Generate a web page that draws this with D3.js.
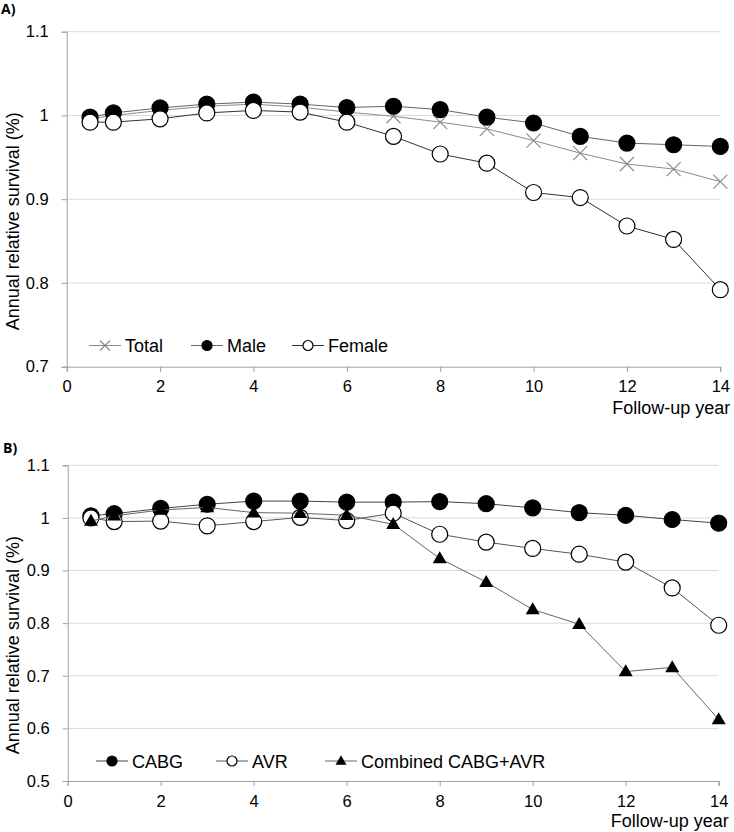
<!DOCTYPE html>
<html>
<head>
<meta charset="utf-8">
<script src="https://cdn.jsdelivr.net/npm/d3@7"></script>
<style>
  body { margin: 0; background: #fff; }
  svg { display: block; font-family: "Liberation Sans", Arial, sans-serif; }
  .tick text { font-size: 16.5px; fill: #000; }
</style>
</head>
<body>
<svg id="chart" width="734" height="832"></svg>
<script>
// follow-up years
var yearsA = [0.5, 1, 2, 3, 4, 5, 6, 7, 8, 9, 10, 11, 12, 13, 14];
var yearsB = [0.5, 1, 2, 3, 4, 5, 6, 7, 8, 9, 10, 11, 12, 13, 14];

// panel A: by sex
var totalVals  = [0.996, 1.000, 1.006, 1.011, 1.0135, 1.010, 1.004, 0.999, 0.992, 0.984, 0.970, 0.955, 0.942, 0.936, 0.921];
var maleVals   = [0.998, 1.003, 1.009, 1.0135, 1.016, 1.0135, 1.0095, 1.011, 1.007, 0.998, 0.991, 0.975, 0.967, 0.965, 0.963];
var femaleVals = [0.992, 0.992, 0.996, 1.003, 1.006, 1.004, 0.992, 0.975, 0.954, 0.943, 0.908, 0.902, 0.868, 0.852, 0.792];

// panel B: by procedure
var cabgVals     = [1.004, 1.008, 1.018, 1.026, 1.032, 1.032, 1.030, 1.030, 1.031, 1.027, 1.019, 1.010, 1.005, 0.997, 0.990];
var avrVals      = [1.000, 0.993, 0.994, 0.985, 0.993, 1.001, 0.995, 1.009, 0.969, 0.954, 0.942, 0.931, 0.916, 0.867, 0.796];
var combinedVals = [0.994, 1.004, 1.015, 1.020, 1.010, 1.009, 1.005, 0.988, 0.923, 0.878, 0.826, 0.798, 0.708, 0.716, 0.617];

var xTicks = [0, 2, 4, 6, 8, 10, 12, 14];
var yTicksA = [0.7, 0.8, 0.9, 1.0, 1.1];
var yTicksB = [0.5, 0.6, 0.7, 0.8, 0.9, 1.0, 1.1];

var svg = d3.select("#chart");

function drawMarker(g, type, x, y, big) {
    var r = big ? 8 : 5;
    if (type === "cross") {
        var s = big ? 7 : 5;
        g.append("path")
            .attr("d", "M" + (x - s) + "," + (y - s) + "L" + (x + s) + "," + (y + s) +
                       "M" + (x - s) + "," + (y + s) + "L" + (x + s) + "," + (y - s))
            .attr("stroke", "#8c8c8c").attr("stroke-width", 1.2).attr("fill", "none");
    } else if (type === "triangle") {
        var w = big ? 7 : 5.5, h = big ? 12 : 9.5;
        g.append("path")
            .attr("d", "M" + x + "," + (y - h * 0.6) + "L" + (x + w) + "," + (y + h * 0.4) +
                       "L" + (x - w) + "," + (y + h * 0.4) + "Z")
            .attr("fill", "#000");
    } else {
        g.append("circle").attr("cx", x).attr("cy", y).attr("r", r)
            .attr("fill", type === "filled" ? "#000" : "#fff")
            .attr("stroke", "#000").attr("stroke-width", 1.2);
    }
}

function drawPanel(opt) {
    var x = d3.scaleLinear().domain([0, 14]).range([opt.left, opt.right]);
    var y = d3.scaleLinear().domain(opt.yDomain).range([opt.bottom, opt.top]);
    var g = svg.append("g");

    // gridlines
    g.selectAll(".grid").data(opt.yTicks.slice(1)).enter().append("line")
        .attr("x1", opt.left).attr("x2", opt.right)
        .attr("y1", function(d) { return y(d); }).attr("y2", function(d) { return y(d); })
        .attr("stroke", "#d9d9d9").attr("stroke-width", 1);

    // axes
    var xAxis = g.append("g").attr("transform", "translate(0," + opt.bottom + ")")
        .call(d3.axisBottom(x).tickValues(xTicks).tickSize(5).tickPadding(9).tickFormat(d3.format("d")));
    var yAxis = g.append("g").attr("transform", "translate(" + opt.left + ",0)")
        .call(d3.axisLeft(y).tickValues(opt.yTicks).tickSize(5).tickPadding(13)
            .tickFormat(function(d) { return d === 1 ? "1" : d3.format(".1f")(d); }));
    [xAxis, yAxis].forEach(function(a) {
        a.select(".domain").attr("stroke", "#a0a0a0");
        a.selectAll(".tick line").attr("stroke", "#a0a0a0");
    });

    // series
    opt.series.forEach(function(s) {
        var line = d3.line().x(function(d, i) { return x(opt.years[i]); }).y(function(d) { return y(d); });
        g.append("path").datum(s.values).attr("d", line)
            .attr("fill", "none").attr("stroke", s.stroke).attr("stroke-width", 1);
        s.values.forEach(function(v, i) {
            drawMarker(g, s.marker, x(opt.years[i]), y(v), true);
        });
    });

    // legend
    opt.series.forEach(function(s, i) {
        var lx = opt.legendX[i], ly = opt.legendY;
        g.append("line").attr("x1", lx).attr("x2", lx + 32).attr("y1", ly).attr("y2", ly)
            .attr("stroke", s.stroke).attr("stroke-width", 1);
        drawMarker(g, s.marker, lx + 16, ly, false);
        g.append("text").attr("x", lx + 36).attr("y", ly + 6.5)
            .attr("font-size", 18).text(s.name);
    });

    // titles
    g.append("text")
        .attr("transform", "translate(" + 19 + "," + ((opt.top + opt.bottom) / 2 + 22) + ") rotate(-90)")
        .attr("text-anchor", "middle").attr("font-size", 18)
        .text("Annual relative survival (%)");
    g.append("text").attr("x", opt.right + 10).attr("y", opt.xTitleY)
        .attr("text-anchor", "end").attr("font-size", 18).text("Follow-up year");
    g.append("text").attr("x", opt.labelX).attr("y", opt.labelY)
        .attr("font-family", "'Open Sans', sans-serif").attr("font-weight", "bold")
        .attr("font-size", 14).text(opt.label);
}

drawPanel({
    label: "A)", labelX: 1, labelY: 14,
    left: 66.7, right: 720.3, top: 31.7, bottom: 366.7,
    yDomain: [0.7, 1.1], yTicks: yTicksA, years: yearsA,
    xTitleY: 414,
    legendX: [89, 191, 292], legendY: 345.5,
    series: [
        { name: "Total", values: totalVals, marker: "cross", stroke: "#8c8c8c" },
        { name: "Male", values: maleVals, marker: "filled", stroke: "#666" },
        { name: "Female", values: femaleVals, marker: "open", stroke: "#333" }
    ]
});

drawPanel({
    label: "B)", labelX: 3, labelY: 453,
    left: 67.7, right: 718.7, top: 465.3, bottom: 781,
    yDomain: [0.5, 1.1], yTicks: yTicksB, years: yearsB,
    xTitleY: 827,
    legendX: [96, 216, 325], legendY: 761,
    series: [
        { name: "CABG", values: cabgVals, marker: "filled", stroke: "#444" },
        { name: "AVR", values: avrVals, marker: "open", stroke: "#555" },
        { name: "Combined CABG+AVR", values: combinedVals, marker: "triangle", stroke: "#666" }
    ]
});
</script>
</body>
</html>
